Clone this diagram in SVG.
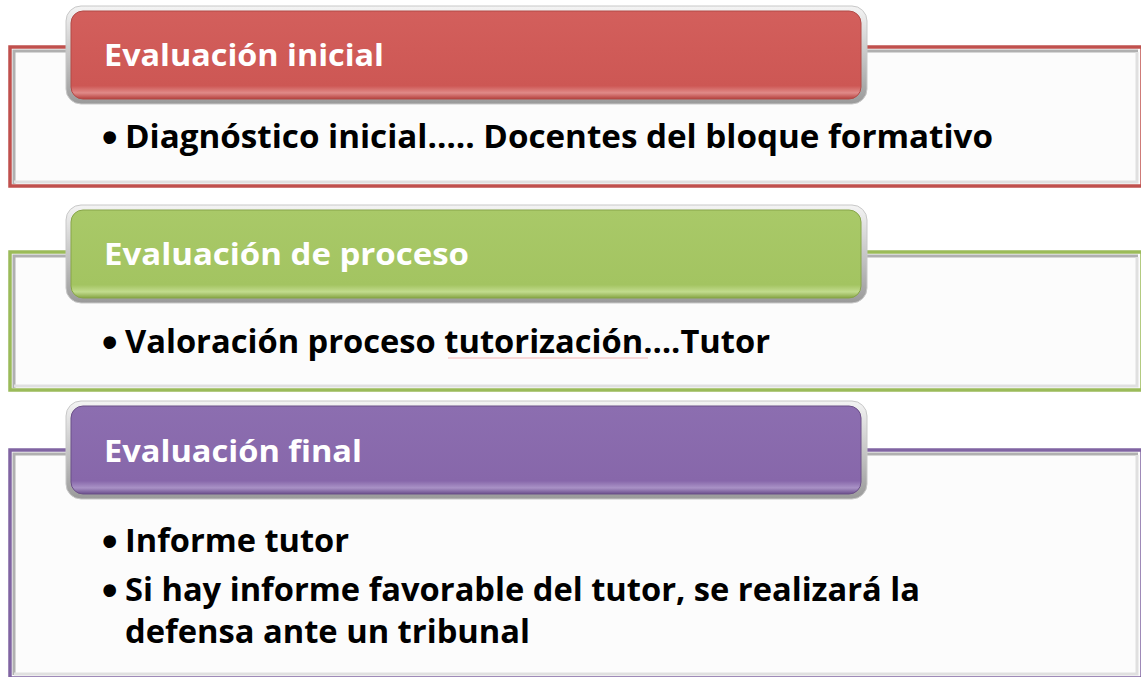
<svg xmlns="http://www.w3.org/2000/svg" width="1141" height="677" viewBox="0 0 1141 677">
<defs>
<linearGradient id="gRed" x1="0" y1="0" x2="0" y2="1">
<stop offset="0" stop-color="#d35f5c"/><stop offset="0.85" stop-color="#cd5754"/><stop offset="0.93" stop-color="#e08a88"/><stop offset="1" stop-color="#b5403d"/>
</linearGradient>
<linearGradient id="gGreen" x1="0" y1="0" x2="0" y2="1">
<stop offset="0" stop-color="#a9c968"/><stop offset="0.85" stop-color="#a3c461"/><stop offset="0.93" stop-color="#c2dc8e"/><stop offset="1" stop-color="#86a544"/>
</linearGradient>
<linearGradient id="gPurple" x1="0" y1="0" x2="0" y2="1">
<stop offset="0" stop-color="#8c6eb0"/><stop offset="0.85" stop-color="#8767aa"/><stop offset="0.93" stop-color="#a992c6"/><stop offset="1" stop-color="#6b4e8c"/>
</linearGradient>
<linearGradient id="gFrame" x1="0" y1="0" x2="0" y2="1">
<stop offset="0" stop-color="#f4f4f4"/><stop offset="1" stop-color="#9a9a9a"/>
</linearGradient>
</defs>
<style>
.box{fill:#fcfcfc;stroke-width:3.5}
.bevel{fill:none;stroke:#b0b0b0;stroke-width:3}
.bevel2{fill:none;stroke:#e0e0e0;stroke-width:3}
.frame{fill:url(#gFrame);stroke:#c8c8c8;stroke-width:1}
.head{font-family:"Open Sans",Lato,"Liberation Sans",sans-serif;font-weight:bold;font-size:31px;fill:#ffffff;font-variant-ligatures:none}
.body{font-family:"Open Sans",Lato,"Liberation Sans",sans-serif;font-weight:bold;font-size:32px;fill:#000000;font-variant-ligatures:none}
.bul{font-family:"Liberation Sans",sans-serif;font-weight:bold;font-size:44px;fill:#000000}
</style>

<g id="node-inicial">
<rect class="box" x="10" y="47" width="1132" height="139" stroke="#c0504d"/>
<polyline class="bevel" points="14,184 14,51 1138,51"/>
<polyline class="bevel2" points="14,182 1137,182 1137,52"/>
<rect class="frame" x="66" y="6" width="801" height="98" rx="15"/>
<rect x="71" y="11" width="790" height="88" rx="12" fill="url(#gRed)" stroke="#b24a47" stroke-width="1"/>
<text class="head" x="104" y="66" textLength="280" lengthAdjust="spacingAndGlyphs">Evaluación inicial</text>
<text class="bul" x="102" y="152">•</text>
<text class="body" x="125" y="148" textLength="868" lengthAdjust="spacingAndGlyphs">Diagnóstico inicial….. Docentes del bloque formativo</text>
</g>

<g id="node-proceso">
<rect class="box" x="10" y="252" width="1132" height="138" stroke="#9bbb59"/>
<polyline class="bevel" points="14,388 14,256 1138,256"/>
<polyline class="bevel2" points="14,386 1137,386 1137,257"/>
<rect class="frame" x="66" y="205" width="801" height="98" rx="15"/>
<rect x="71" y="210" width="790" height="88" rx="12" fill="url(#gGreen)" stroke="#87a548" stroke-width="1"/>
<text class="head" x="104" y="265" textLength="365" lengthAdjust="spacingAndGlyphs">Evaluación de proceso</text>
<text class="bul" x="102" y="357">•</text>
<text class="body" x="125" y="353" textLength="645" lengthAdjust="spacingAndGlyphs">Valoración proceso tutorización….Tutor</text>
<path d="M448,358 L648,358" stroke="#f4b4b4" stroke-width="1" fill="none"/>
</g>

<g id="node-final">
<rect class="box" x="10" y="450" width="1132" height="228" stroke="#8064a2"/>
<polyline class="bevel" points="14,675 14,454 1138,454"/>
<polyline class="bevel2" points="14,674 1137,674 1137,455"/>
<rect class="frame" x="66" y="401" width="801" height="98" rx="15"/>
<rect x="71" y="406" width="790" height="88" rx="12" fill="url(#gPurple)" stroke="#6b5088" stroke-width="1"/>
<text class="head" x="104" y="462" textLength="258" lengthAdjust="spacingAndGlyphs">Evaluación final</text>
<text class="bul" x="102" y="556">•</text>
<text class="body" x="125" y="552" textLength="224" lengthAdjust="spacingAndGlyphs">Informe tutor</text>
<text class="bul" x="102" y="605">•</text>
<text class="body" x="125" y="601" textLength="795" lengthAdjust="spacingAndGlyphs">Si hay informe favorable del tutor, se realizará la</text>
<text class="body" x="125" y="643" textLength="405" lengthAdjust="spacingAndGlyphs">defensa ante un tribunal</text>
</g>

<g id="connectors"></g>
</svg>
